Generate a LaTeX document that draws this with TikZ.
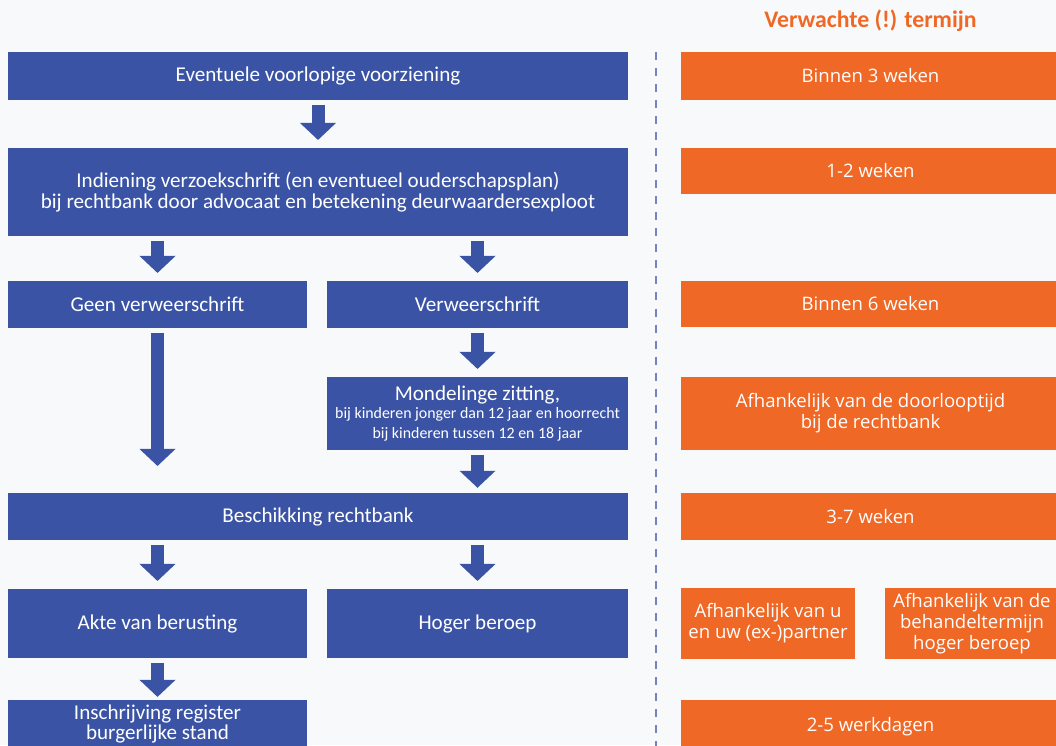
\documentclass[tikz,border=0pt]{standalone}
\usepackage{fontspec}
\setmainfont{Carlito}
\newfontfamily\oranjefont{Open Sans}
\usetikzlibrary{arrows.meta}

\definecolor{blokblauw}{HTML}{3A53A4}
\definecolor{bloksoranje}{HTML}{EF6826}
\definecolor{streep}{HTML}{7282C2}
\definecolor{achtergrond}{HTML}{F8F9FB}

\newcommand{\gewoon}{\fontsize{15}{15}\selectfont}
\newcommand{\klein}{\fontsize{11.3}{12.4}\selectfont}

\begin{document}
\begin{tikzpicture}[x=0.025cm, y=-0.025cm,
  blauw/.style={fill=blokblauw, text=white, inner sep=0pt, align=center, font=\gewoon},
  oranje/.style={fill=bloksoranje, text=white, inner sep=0pt, align=center, font=\oranjefont\fontsize{13.2}{15}\selectfont},
  pijl/.style={draw=blokblauw, line width=9.25pt,
    -{Triangle[width=24.9pt, length=12.1pt]}, shorten <=3pt, shorten >=5.5pt}]

\fill[achtergrond] (0,0) rectangle (1056,745);
\useasboundingbox (0,0) rectangle (1056,745);

\node[text=bloksoranje, font=\fontsize{16.9}{18}\selectfont\bfseries] (kop) at (870.5,21) {Verwachte (!) termijn};

\coordinate (lijnboven) at (656,52);
\coordinate (lijnonder) at (656,750);
\draw[streep, line width=1.4pt, dash pattern=on 5.7pt off 5.7pt] (lijnboven) -- (lijnonder);

% linkerkant: procedure
\node[blauw, minimum width=15.5cm, minimum height=1.2cm] (voorz) at (318,76) {Eventuele voorlopige voorziening};
\node[blauw, minimum width=15.5cm, minimum height=2.2cm] (indiening) at (318,192)
  {Indiening verzoekschrift (en eventueel ouderschapsplan)\\bij rechtbank door advocaat en betekening deurwaardersexploot};
\node[blauw, minimum width=7.475cm, minimum height=1.175cm] (geen) at (157.5,304.5) {Geen verweerschrift};
\node[blauw, minimum width=7.525cm, minimum height=1.175cm] (verweer) at (477.5,304.5) {Verweerschrift};
\node[blauw, minimum width=7.525cm, minimum height=1.825cm] (zitting) at (477.5,413.5)
  {Mondelinge zitting,\\[-2.5pt]\klein bij kinderen jonger dan 12 jaar en hoorrecht\\[-1pt]\klein bij kinderen tussen 12 en 18 jaar};
\node[blauw, minimum width=15.5cm, minimum height=1.175cm] (beschik) at (318,516.5) {Beschikking rechtbank};
\node[blauw, minimum width=7.475cm, minimum height=1.725cm] (akte) at (157.5,623.5) {Akte van berusting};
\node[blauw, minimum width=7.525cm, minimum height=1.725cm] (beroep) at (477.5,623.5) {Hoger beroep};
\node[blauw, minimum width=7.475cm, minimum height=1.2cm] (inschr) at (157.5,724)
  {Inschrijving register\\[-1pt]burgerlijke stand};

\draw[pijl] (voorz) -- (indiening);
\draw[pijl] (indiening.south -| geen.north) -- (geen.north);
\draw[pijl] (indiening.south -| verweer.north) -- (verweer.north);
\draw[pijl] (verweer) -- (zitting);
\draw[pijl, shorten >=19pt] (geen.south) -- (geen.south |- beschik.north);
\draw[pijl, shorten >=3.5pt] (zitting) -- (zitting.south |- beschik.north);
\draw[pijl] (beschik.south -| akte.north) -- (akte.north);
\draw[pijl] (beschik.south -| beroep.north) -- (beroep.north);
\draw[pijl, shorten >=2pt] (akte) -- (inschr);

% rechterkant: termijnen
\node[oranje, minimum width=9.475cm, minimum height=1.2cm] (t1) at (870.5,76) {Binnen 3 weken};
\node[oranje, minimum width=9.475cm, minimum height=1.15cm] (t2) at (870.5,171) {1-2 weken};
\node[oranje, minimum width=9.475cm, minimum height=1.15cm] (t3) at (870.5,304) {Binnen 6 weken};
\node[oranje, minimum width=9.475cm, minimum height=1.825cm] (t4) at (870.5,413.5)
  {Afhankelijk van de doorlooptijd\\bij de rechtbank};
\node[oranje, minimum width=9.475cm, minimum height=1.175cm] (t5) at (870.5,516.5) {3-7 weken};
\node[oranje, minimum width=4.35cm, minimum height=1.775cm] (t6a) at (768,623.5)
  {Afhankelijk van u\\en uw (ex-)partner};
\node[oranje, minimum width=4.35cm, minimum height=1.775cm] (t6b) at (972,623.5)
  {Afhankelijk van de\\behandeltermijn\\hoger beroep};
\node[oranje, minimum width=9.475cm, minimum height=1.35cm] (t7) at (870.5,727) {2-5 werkdagen};

\end{tikzpicture}
\end{document}
